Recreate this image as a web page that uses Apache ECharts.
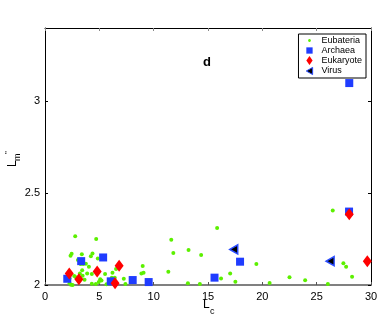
<!DOCTYPE html>
<html>
<head>
<meta charset="utf-8">
<script src="https://cdn.jsdelivr.net/npm/echarts@6/dist/echarts.min.js"></script>
<style>
  html, body { margin: 0; padding: 0; background: #fff; }
  #chart { width: 382px; height: 320px; }
</style>
</head>
<body>
<div id="chart"></div>
<script>
  // 数据 [Lc, Lm'']
  var eubateria = [
    [2.78, 2.265], [4.71, 2.25], [2.35, 2.16], [2.45, 2.17], [3.39, 2.167], [4.37, 2.172],
    [4.22, 2.156], [4.86, 2.145], [3.03, 2.136], [3.27, 2.114], [3.51, 2.114], [3.76, 2.116],
    [4.04, 2.10], [3.42, 2.08], [3.21, 2.063], [3.88, 2.063], [4.31, 2.06], [5.53, 2.06],
    [6.21, 2.067], [6.54, 2.087], [7.25, 2.034], [7.40, 2.005], [5.08, 2.031], [5.2, 2.025],
    [2.84, 2.042], [3.46, 2.05], [3.64, 2.029], [2.26, 2.01], [2.39, 2.002], [2.54, 2.0],
    [2.26, 2.036], [2.69, 2.049], [4.68, 2.005], [4.95, 2.016], [4.31, 2.007], [6.15, 2.04],
    [6.42, 2.04], [5.66, 2.004], [8.99, 2.103], [8.87, 2.063], [9.07, 2.067], [2.14, 2.054],
    [11.35, 2.072], [11.62, 2.246], [11.81, 2.174], [13.21, 2.19], [13.15, 2.009],
    [14.37, 2.163], [14.25, 2.005], [15.84, 2.311], [16.2, 2.036], [17.04, 2.063],
    [17.52, 2.018], [19.45, 2.114], [20.67, 2.011], [22.5, 2.042], [23.94, 2.026],
    [26.03, 2.005], [26.48, 2.406], [27.46, 2.118], [27.71, 2.10], [28.26, 2.045]
  ]
  var archaea = [
    [2.05, 2.034], [3.33, 2.13], [5.35, 2.15], [6.05, 2.02], [8.07, 2.027], [9.54, 2.016],
    [15.6, 2.04], [17.95, 2.127], [27.98, 2.40], [28.0, 3.10]
  ]
  var eukaryote = [
    [2.23, 2.063], [3.12, 2.031], [4.80, 2.074], [6.45, 2.009], [6.82, 2.105],
    [28.0, 2.386], [29.66, 2.13]
  ]
  var virus = [[17.37, 2.194], [26.24, 2.13]]

  var xTicks = [0, 5, 10, 15, 20, 25, 30]
  var yTicks = [2, 2.5, 3]

  var chart = echarts.init(document.getElementById('chart'))
  var font = 'Liberation Sans'
  // 图例小图标 (M0,0M10,10 撑开包围盒)
  var box = 'path://M0,0M10,10'

  chart.setOption({
    animation: false,
    textStyle: {fontFamily: font},
    grid: {left: 45, top: 28, right: 11, bottom: 35},
    legend: {
      orient: 'vertical',
      right: 16,
      top: 34,
      padding: [2, 4, 2, 6],
      itemGap: 1,
      itemWidth: 14,
      itemHeight: 9,
      borderColor: '#000',
      borderWidth: 1,
      backgroundColor: '#fff',
      textStyle: {fontSize: 9, color: '#000', fontFamily: font},
      data: [
        {name: 'Eubateria', icon: box + 'M3.5,5L4,3.7L5,3.3L6,3.7L6.5,5L6,6.3L5,6.7L4,6.3Z'},
        {name: 'Archaea', icon: box + 'M1.5,1.5L8.5,1.5L8.5,8.5L1.5,8.5Z'},
        {name: 'Eukaryote', icon: box + 'M5,0L8.5,5L5,10L1.5,5Z'},
        {name: 'Virus', icon: box + 'M1.5,5L8.5,1L8.5,9Z',
          itemStyle: {color: '#000', borderColor: '#2a4cff', borderWidth: 1}}
      ]
    },
    xAxis: [{
      type: 'value',
      min: xTicks[0],
      max: xTicks[xTicks.length - 1],
      interval: 5,
      axisLine: {show: true, onZero: false, lineStyle: {color: '#808080', width: 2}},
      axisTick: {inside: true, length: 3, lineStyle: {color: '#555'}},
      axisLabel: {color: '#000', fontSize: 11, margin: 6},
      splitLine: {show: false}
    }, {
      type: 'value',
      position: 'top',
      min: xTicks[0],
      max: xTicks[xTicks.length - 1],
      interval: 5,
      axisLine: {show: true, onZero: false, lineStyle: {color: '#000'}},
      axisTick: {inside: true, length: 3, lineStyle: {color: '#888'}},
      axisLabel: {show: false},
      splitLine: {show: false}
    }],
    yAxis: [{
      type: 'value',
      min: 2,
      max: 3.4,
      interval: 0.5,
      axisLine: {show: true, onZero: false, lineStyle: {color: '#000'}},
      axisTick: {inside: true, length: 3, lineStyle: {color: '#000'}},
      axisLabel: {color: '#000', fontSize: 11, margin: 5, showMaxLabel: false,
        formatter: function (v) { return yTicks.indexOf(v) >= 0 ? String(v) : '' }},
      splitLine: {show: false}
    }, {
      type: 'value',
      position: 'right',
      min: 2,
      max: 3.4,
      interval: 0.5,
      axisLine: {show: true, onZero: false, lineStyle: {color: '#000'}},
      axisTick: {inside: true, length: 3, lineStyle: {color: '#000'}},
      axisLabel: {show: false},
      splitLine: {show: false}
    }],
    graphic: [
      {type: 'text', left: 203, top: 56, style: {text: 'd', fontSize: 13, fontWeight: 'bold', fill: '#000', fontFamily: font}},
      {type: 'text', left: 203, top: 299, style: {text: 'L', fontSize: 12, fill: '#000', fontFamily: font}},
      {type: 'text', left: 210, top: 307, style: {text: 'c', fontSize: 9, fill: '#000', fontFamily: font}},
      {
        type: 'group', x: 7, y: 167, rotation: Math.PI / 2,
        children: [
          {type: 'text', x: 0, y: 0, style: {text: 'L', fontSize: 12, fill: '#000', fontFamily: font}},
          {type: 'text', x: 6, y: 6, style: {text: 'm', fontSize: 9, fill: '#000', fontFamily: font}},
          {type: 'text', x: 13, y: -3, style: {text: '"', fontSize: 8, fill: '#000', fontFamily: font}}
        ]
      }
    ],
    series: [
      {
        name: 'Eubateria', type: 'scatter', data: eubateria,
        symbol: 'circle', symbolSize: 4,
        itemStyle: {color: '#5cf000', opacity: 1}
      },
      {
        name: 'Archaea', type: 'scatter', data: archaea,
        symbol: 'rect', symbolSize: 8,
        itemStyle: {color: '#1f3cff', opacity: 1}
      },
      {
        name: 'Eukaryote', type: 'scatter', data: eukaryote,
        symbol: 'diamond', symbolSize: [9, 12],
        itemStyle: {color: '#ff0000', opacity: 1}
      },
      {
        name: 'Virus', type: 'scatter', data: virus,
        symbol: 'triangle', symbolSize: [9, 8], symbolRotate: 90,
        itemStyle: {color: '#000', borderColor: '#2a4cff', borderWidth: 1.5, opacity: 1}
      }
    ]
  })
</script>
</body>
</html>
